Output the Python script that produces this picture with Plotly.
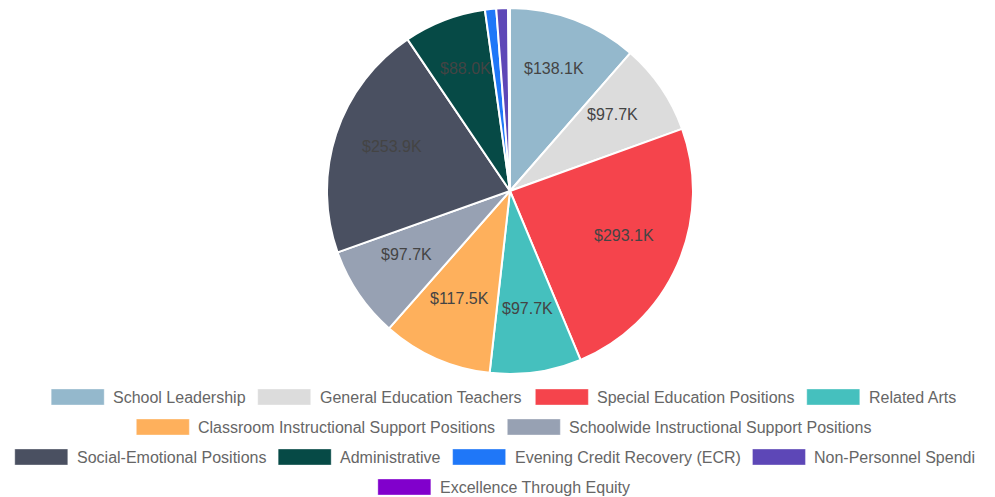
import math
import plotly.graph_objects as go

# ---- data ----
categories = [
    "School Leadership",
    "General Education Teachers",
    "Special Education Positions",
    "Related Arts",
    "Classroom Instructional Support Positions",
    "Schoolwide Instructional Support Positions",
    "Social-Emotional Positions",
    "Administrative",
    "Evening Credit Recovery (ECR)",
    "Non-Personnel Spending",
    "Excellence Through Equity",
]
# text shown in the legend (last-but-one label is truncated in the original)
legend_labels = [
    "School Leadership",
    "General Education Teachers",
    "Special Education Positions",
    "Related Arts",
    "Classroom Instructional Support Positions",
    "Schoolwide Instructional Support Positions",
    "Social-Emotional Positions",
    "Administrative",
    "Evening Credit Recovery (ECR)",
    "Non-Personnel Spendi",
    "Excellence Through Equity",
]
values_k = [138.1, 97.7, 293.1, 97.7, 117.5, 97.7, 253.9, 88.0, 12.0, 12.5, 2.0]
colors = [
    "#94B8CC", "#DCDCDC", "#F5444C", "#45C0BE", "#FEB05C", "#97A1B3",
    "#4A5061", "#064A46", "#1F77F8", "#5D47B7", "#8100CC",
]
legend_rows = [[0, 1, 2, 3], [4, 5], [6, 7, 8, 9], [10]]

W, H = 995, 497
DOM_X = [0.0251, 1.0]
DOM_Y = [(H - 374) / H, (H - 8) / H]

total = sum(values_k)

fig = go.Figure()
fig.add_trace(go.Pie(
    labels=categories,
    values=values_k,
    textinfo="none",
    marker=dict(colors=colors, line=dict(color="#FFFFFF", width=2)),
    sort=False,
    direction="clockwise",
    rotation=0,
    hoverinfo="label+value",
    showlegend=False,
    domain=dict(x=DOM_X, y=DOM_Y),
))

annotations = []
shapes = []

# ---- slice value labels, placed on each slice's bisector ----
cx = (DOM_X[0] + DOM_X[1]) / 2 * W
cy = H - (DOM_Y[0] + DOM_Y[1]) / 2 * H
R = min((DOM_X[1] - DOM_X[0]) * W, (DOM_Y[1] - DOM_Y[0]) * H) / 2
LABEL_R = 0.68 * R
cum = 0.0
for v in values_k:
    mid = (cum + v / 2) / total * 2 * math.pi
    cum += v
    if v / total < 0.03:
        continue
    px = cx + LABEL_R * math.sin(mid)
    py = cy - LABEL_R * math.cos(mid) - 6
    annotations.append(dict(
        xref="paper", yref="paper", x=px / W, y=(H - py) / H,
        xanchor="center", yanchor="middle", showarrow=False,
        text=f"${v:.1f}K",
        font=dict(family="Liberation Sans, Arial, sans-serif", size=16, color="#444444"),
    ))

# ---- custom legend (wide rectangles, centred rows) ----
AW = {' ': 278, '-': 333, '(': 333, ')': 333, '.': 278,
      'A': 667, 'B': 667, 'C': 722, 'D': 722, 'E': 667, 'F': 611, 'G': 778, 'H': 722,
      'I': 278, 'K': 667, 'L': 556, 'M': 833, 'N': 722, 'O': 778, 'P': 667, 'R': 722,
      'S': 667, 'T': 611, 'U': 722,
      'a': 556, 'b': 556, 'c': 500, 'd': 556, 'e': 556, 'f': 278, 'g': 556, 'h': 556,
      'i': 222, 'j': 222, 'k': 500, 'l': 222, 'm': 833, 'n': 556, 'o': 556, 'p': 556,
      'q': 556, 'r': 333, 's': 500, 't': 278, 'u': 556, 'v': 500, 'w': 722, 'x': 500,
      'y': 500, 'z': 500}
FS = 16


def tw(s):
    return sum(AW.get(c, 556) for c in s) * FS / 1000.0


RECT_W, RECT_H, GAP, ITEM_GAP = 53, 16, 8, 13
CENTER_X = 503.5
ROW_Y = [397, 427, 457, 487]

for r, row in enumerate(legend_rows):
    widths = [RECT_W + GAP + tw(categories[i]) for i in row]
    row_w = sum(widths) + ITEM_GAP * (len(row) - 1)
    x = CENTER_X - row_w / 2
    y = ROW_Y[r]
    for i, w in zip(row, widths):
        shapes.append(dict(
            type="rect", xref="paper", yref="paper",
            x0=x / W, x1=(x + RECT_W) / W,
            y0=(H - (y + RECT_H / 2)) / H, y1=(H - (y - RECT_H / 2)) / H,
            fillcolor=colors[i], line=dict(width=0.6, color="rgba(255,255,255,0.6)"),
        ))
        tx = x + RECT_W + GAP
        annotations.append(dict(
            xref="paper", yref="paper", x=tx / W, y=(H - y) / H,
            xanchor="left", yanchor="middle", showarrow=False,
            text=legend_labels[i], align="left", borderpad=0,
            font=dict(family="Liberation Sans, Arial, sans-serif", size=FS, color="#666666"),
        ))
        x += w + ITEM_GAP

fig.update_layout(
    width=W, height=H,
    margin=dict(l=0, r=0, t=0, b=0),
    paper_bgcolor="#FFFFFF",
    plot_bgcolor="#FFFFFF",
    shapes=shapes,
    annotations=annotations,
    font=dict(family="Liberation Sans, Arial, sans-serif"),
)

fig.write_html(
    "out.html",
    config={"displayModeBar": False},
    post_script="document.body.style.margin='0';document.body.style.overflow='hidden';",
)
